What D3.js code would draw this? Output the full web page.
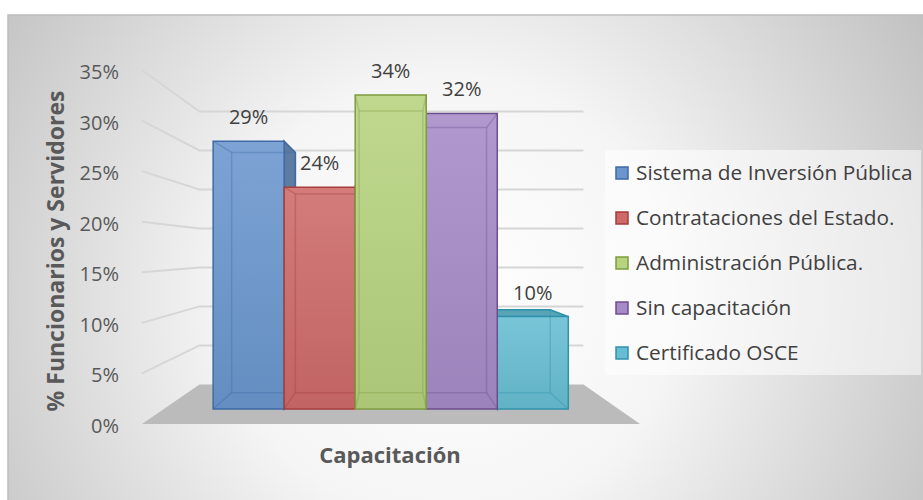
<!DOCTYPE html>
<html>
<head>
<meta charset="utf-8">
<script src="https://cdn.jsdelivr.net/npm/d3@7"></script>
<style>
	body { margin: 0; background: #fff; }
	svg text { font-family: "Open Sans", sans-serif; }
</style>
</head>
<body>
<svg id="chart" width="923" height="500"></svg>
<script>

// data
const series = ["Sistema de Inversión Pública", "Contrataciones del Estado.", "Administración Pública.", "Sin capacitación", "Certificado OSCE"];
const values = [29, 24, 34, 32, 10];
const valueLabels = ["29%", "24%", "34%", "32%", "10%"];
const yTicks = [0, 5, 10, 15, 20, 25, 30, 35];
const yTickLabels = ["0%", "5%", "10%", "15%", "20%", "25%", "30%", "35%"];
const xTitle = "Capacitación";
const yTitle = "% Funcionarios y Servidores";

// colours
const fills = ["#6a96cd", "#cd6a69", "#b6d37f", "#a68bc7", "#67bdd3"];
const strokes = ["#3e6aa6", "#a73d3c", "#7f9c3f", "#6b4f8f", "#2f92aa"];

const svg = d3.select("#chart");
const defs = svg.append("defs");

// perspective: front plane scales, points shrink toward a vanishing point
const vp = {x: 393, y: 251};
const sWall = 0.771;   // back wall depth
const sBarF = 0.913;   // bar front face depth
const sBarB = 0.819;   // bar back face depth
const proj = (wx, wy, s) => [vp.x + s * (wx - vp.x), vp.y + s * (wy - vp.y)];

const y = d3.scaleLinear().domain([0, 35]).range([424, 70]);
const xFloor = d3.scaleLinear().domain([0, 1]).range([142, 640]);
const xBar = d3.scaleBand().domain(series).range([196, 585]).padding(0);

// background
const bg = defs.append("radialGradient")
	.attr("id", "bg")
	.attr("gradientUnits", "userSpaceOnUse")
	.attr("cx", 450).attr("cy", 300).attr("r", 560);
bg.append("stop").attr("offset", 0).attr("stop-color", "#ffffff");
bg.append("stop").attr("offset", 0.4).attr("stop-color", "#f5f5f5");
bg.append("stop").attr("offset", 1).attr("stop-color", "#c0c0c0");

svg.append("rect")
	.attr("x", 8).attr("y", 15)
	.attr("width", 930).attr("height", 500)
	.attr("fill", "url(#bg)")
	.attr("stroke", "#bdbdbd")
	.attr("stroke-width", 1.5);

// gridlines: left wall + back wall
const grid = svg.append("g");
yTicks.filter(d => d > 0).forEach(v => {
	const a = proj(xFloor(0), y(v), 1);
	const b = proj(xFloor(0), y(v), sWall);
	const c = proj(xFloor(1), y(v), sWall);
	grid.append("polyline")
		.attr("points", [a, b, c].map(p => p.join(",")).join(" "))
		.attr("fill", "none")
		.attr("stroke", "#d6d6d6")
		.attr("stroke-width", 2);
});

// floor
const floorPts = [
	proj(xFloor(0), y(0), 1), proj(xFloor(1), y(0), 1),
	proj(xFloor(1), y(0), sWall), proj(xFloor(0), y(0), sWall)
];
svg.append("polygon")
	.attr("points", floorPts.map(p => p.join(",")).join(" "))
	.attr("fill", "#bbbbbb");

// bars, drawn from outside in so nearer faces cover
const order = [0, 1, 4, 3, 2];
const bars = svg.append("g");
const pts = arr => arr.map(p => p.join(",")).join(" ");

order.forEach(i => {
	const c = fills[i], st = strokes[i];
	const x0 = xBar(series[i]), x1 = x0 + xBar.bandwidth();
	const yt = y(values[i]), yb = y(0);
	const F = {tl: proj(x0, yt, sBarF), tr: proj(x1, yt, sBarF), br: proj(x1, yb, sBarF), bl: proj(x0, yb, sBarF)};
	const B = {tl: proj(x0, yt, sBarB), tr: proj(x1, yt, sBarB), br: proj(x1, yb, sBarB), bl: proj(x0, yb, sBarB)};
	const dark = d3.color(c).darker(0.8).formatHex();
	const g = bars.append("g");

	if (F.tr[0] < vp.x) {
		g.append("polygon").attr("points", pts([F.tr, B.tr, B.br, F.br]))
			.attr("fill", dark).attr("fill-opacity", 0.92).attr("stroke", st).attr("stroke-width", 1.5);
	}
	if (F.tl[0] > vp.x) {
		g.append("polygon").attr("points", pts([F.tl, B.tl, B.bl, F.bl]))
			.attr("fill", dark).attr("fill-opacity", 0.92).attr("stroke", st).attr("stroke-width", 1.5);
	}
	if (F.tl[1] > vp.y) {
		g.append("polygon").attr("points", pts([F.tl, F.tr, B.tr, B.tl]))
			.attr("fill", d3.color(c).darker(0.4).formatHex()).attr("stroke", st).attr("stroke-width", 1.5);
	}

	const grad = defs.append("linearGradient")
		.attr("id", "gb" + i).attr("x1", 0).attr("y1", 0).attr("x2", 0).attr("y2", 1);
	grad.append("stop").attr("offset", 0).attr("stop-color", d3.interpolateRgb(c, "#fff")(0.12));
	grad.append("stop").attr("offset", 1).attr("stop-color", d3.interpolateRgb(c, "#000")(0.06));

	g.append("polygon").attr("points", pts([F.tl, F.tr, F.br, F.bl]))
		.attr("fill", "url(#gb" + i + ")")
		.attr("stroke", st).attr("stroke-width", 1.5);

	// back edges seen through the front face
	const inner = g.append("g").attr("stroke", st).attr("stroke-opacity", 0.35).attr("stroke-width", 1.5).attr("fill", "none");
	inner.append("polygon").attr("points", pts([B.tl, B.tr, B.br, B.bl]));
	["tl", "tr", "br", "bl"].forEach(k => {
		inner.append("line").attr("x1", F[k][0]).attr("y1", F[k][1]).attr("x2", B[k][0]).attr("y2", B[k][1]);
	});

	const lc = proj((x0 + x1) / 2, yt, sBarF);
	svg.append("text")
		.attr("x", lc[0]).attr("y", lc[1] - 24)
		.attr("dy", "0.35em")
		.attr("text-anchor", "middle")
		.attr("font-size", 20)
		.attr("fill", "#404040")
		.text(valueLabels[i]);
});

// y tick labels
svg.append("g").selectAll("text")
	.data(yTicks)
	.join("text")
	.attr("x", 119)
	.attr("y", d => y(d) + 2)
	.attr("dy", "0.35em")
	.attr("text-anchor", "end")
	.attr("font-size", 20)
	.attr("fill", "#595959")
	.text((d, i) => yTickLabels[i]);

// axis titles
svg.append("text")
	.attr("transform", "translate(56,251) rotate(-90)")
	.attr("dy", "0.35em")
	.attr("text-anchor", "middle")
	.attr("font-size", 23)
	.attr("font-weight", "bold")
	.attr("fill", "#595959")
	.text(yTitle);

svg.append("text")
	.attr("x", 390).attr("y", 455)
	.attr("dy", "0.35em")
	.attr("text-anchor", "middle")
	.attr("font-size", 22)
	.attr("font-weight", "bold")
	.attr("fill", "#595959")
	.text(xTitle);

// legend
const legend = svg.append("g");
legend.append("rect")
	.attr("x", 605).attr("y", 150)
	.attr("width", 316).attr("height", 225)
	.attr("fill", "#ffffff").attr("fill-opacity", 0.55);

const item = legend.selectAll(".item")
	.data(series)
	.join("g")
	.attr("class", "item")
	.attr("transform", (d, i) => `translate(616,${173 + i * 45})`);

item.append("rect")
	.attr("x", 0).attr("y", -6)
	.attr("width", 12).attr("height", 12)
	.attr("fill", (d, i) => fills[i])
	.attr("stroke", (d, i) => strokes[i])
	.attr("stroke-width", 1.5);

item.append("text")
	.attr("x", 20)
	.attr("dy", "0.35em")
	.attr("font-size", 20.8)
	.attr("fill", "#404040")
	.text(d => d);

</script>
</body>
</html>
